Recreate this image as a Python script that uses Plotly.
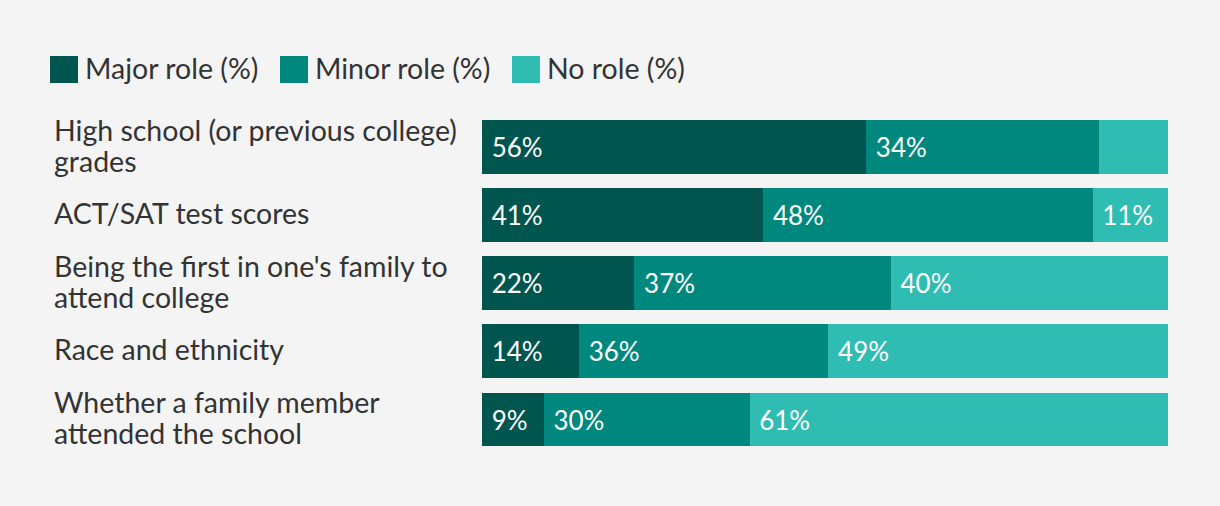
import plotly.graph_objects as go

categories = [
    "High school (or previous college)<br>grades",
    "ACT/SAT test scores",
    "Being the first in one's family to<br>attend college",
    "Race and ethnicity",
    "Whether a family member<br>attended the school",
]
series_names = ["Major role (%)", "Minor role (%)", "No role (%)"]
major = [56, 41, 22, 14, 9]
minor = [34, 48, 37, 36, 30]
no_role = [10, 11, 40, 49, 61]
show_label = [
    [True, True, True, True, True],
    [True, True, True, True, True],
    [False, True, True, True, True],
]
colors = ["#00554f", "#00877e", "#2fbcb2"]

W, H = 1220, 506
ML, MR, MT, MB = 482, 52, 113, 50
PW, PH = W - ML - MR, H - MT - MB
FONT = "Lato"
LINE_GAP = 31


def px_x(px):
    return (px - ML) / PW


def px_y(py):
    return (H - MB - py) / PH


fig = go.Figure()
for name, vals, col, show in zip(series_names, [major, minor, no_role], colors, show_label):
    fig.add_trace(go.Bar(
        y=categories, x=vals, name=name, orientation="h",
        marker=dict(color=col, line=dict(width=0)),
        text=["\u00a0" + f"{v}%" if s else "" for v, s in zip(vals, show)],
        textposition="inside", insidetextanchor="start",
        textfont=dict(color="white", size=26, family=FONT),
        constraintext="none", cliponaxis=False,
        showlegend=False, hoverinfo="x+y+name",
    ))

annotations = []
for c in categories:
    lines = c.split("<br>")
    n = len(lines)
    for i, ln in enumerate(lines):
        shift = ((n - 1) / 2 - i) * LINE_GAP + 2
        annotations.append(dict(
            x=px_x(52), xref="paper", y=c, yref="y", text=ln, showarrow=False,
            xanchor="left", yanchor="middle", align="left", yshift=shift,
            font=dict(size=28.5, color="#333333", family=FONT),
        ))

shapes = []
legend_sq_x = [50, 280, 512]
for name, col, sx in zip(series_names, colors, legend_sq_x):
    shapes.append(dict(type="rect", xref="paper", yref="paper",
                       x0=px_x(sx), x1=px_x(sx + 28), y0=px_y(83), y1=px_y(56),
                       fillcolor=col, line=dict(width=0)))
    annotations.append(dict(x=px_x(sx + 33), xref="paper", y=px_y(68), yref="paper",
                            text=name, showarrow=False, xanchor="left", yanchor="middle",
                            font=dict(size=28.5, color="#333333", family=FONT)))

fig.update_layout(
    width=W, height=H,
    margin=dict(l=ML, r=MR, t=MT, b=MB, pad=0),
    paper_bgcolor="#f4f4f4", plot_bgcolor="#f4f4f4",
    barmode="stack", barnorm="percent", bargap=0.21,
    xaxis=dict(range=[0, 100], visible=False, fixedrange=True),
    yaxis=dict(autorange="reversed", showticklabels=False, showgrid=False,
               zeroline=False, showline=False, ticks="", fixedrange=True),
    annotations=annotations, shapes=shapes,
    showlegend=False,
    font=dict(family=FONT),
)

fig.write_html("out.html", config={"displayModeBar": False})
